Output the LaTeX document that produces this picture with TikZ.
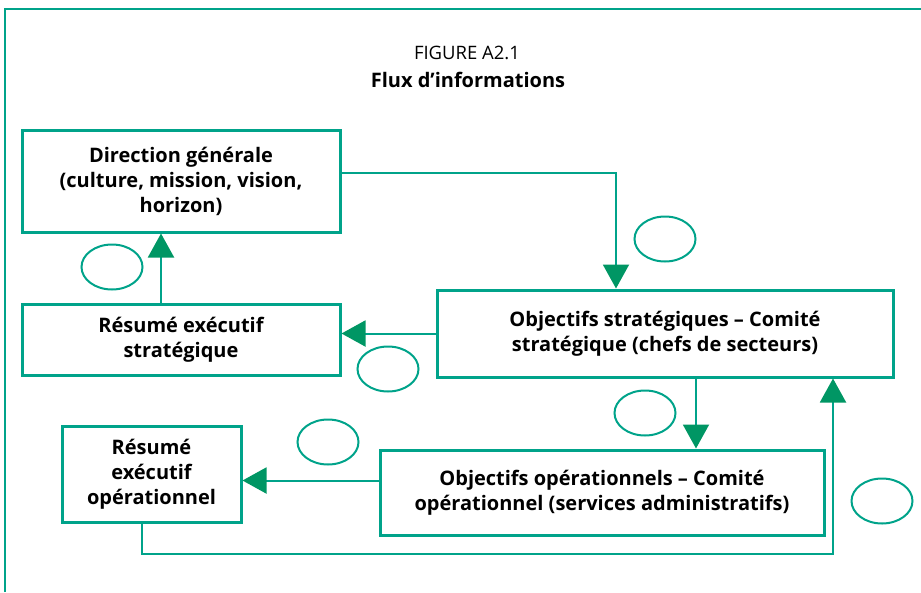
\documentclass[tikz,border=0pt]{standalone}
\usepackage{fontspec}
\setmainfont{Open Sans}
\usepackage{xcolor}
\definecolor{frameteal}{RGB}{0,163,138}
\definecolor{headgreen}{RGB}{0,150,100}
\usepackage{tikz}
\usetikzlibrary{shapes.geometric}
\usetikzlibrary{positioning}
\usetikzlibrary{arrows.meta}

\begin{document}
\begin{tikzpicture}[x=1pt,y=1pt,
  boxnode/.style={draw=frameteal,line width=3pt,align=center,inner sep=0pt,
    font=\bfseries\fontsize{20}{25}\selectfont},
  bubble/.style={draw=frameteal,line width=2pt,ellipse,minimum width=61pt,minimum height=45pt,inner sep=0pt},
  infolink/.style={draw=frameteal,line width=2pt,
    -{Triangle[length=24pt,width=26pt,color=headgreen]}}]
\useasboundingbox (0,0) rectangle (921,-592);
% frame
\draw[frameteal,line width=2pt] (5,-592) -- (5,-9) -- (921,-9);
% title
\node[anchor=base,font=\fontsize{18.5}{22}\selectfont] (figtitle) at (467,-59) {FIGURE A2.1};
\node[anchor=base,font=\bfseries\fontsize{20}{22}\selectfont] (figname) at (468,-87) {Flux d’informations};
% boxes
\node[boxnode,minimum width=318pt,minimum height=102pt] (direction) at (181,-181)
  {Direction générale\\(culture, mission, vision,\\horizon)};
\node[boxnode,minimum width=318pt,minimum height=71pt] (resumestrat) at (181,-339.5)
  {Résumé exécutif\\stratégique};
\node[boxnode,minimum width=456pt,minimum height=87pt] (objstrat) at (665,-333.5)
  {Objectifs stratégiques – Comité\\stratégique (chefs de secteurs)};
\node[boxnode,minimum width=444pt,minimum height=85pt] (objop) at (602,-492.5)
  {Objectifs opérationnels – Comité\\opérationnel (services administratifs)};
\node[boxnode,minimum width=179pt,minimum height=96pt] (resumeop) at (151.5,-474)
  {Résumé\\exécutif\\opérationnel};
% bubbles
\node[bubble] (b1) at (665,-239) {};
\node[bubble] (b2) at (388,-369) {};
\node[bubble] (b3) at (112,-267) {};
\node[bubble] (b4) at (645,-413) {};
\node[bubble] (b5) at (328,-442) {};
\node[bubble] (b6) at (882,-501) {};
% links
\draw[infolink] ([yshift=8pt]direction.east) -| ([xshift=-49pt]objstrat.north);
\draw[infolink] (objstrat.west) -- (objstrat.west -| resumestrat.east);
\draw[infolink] ([xshift=-20pt]resumestrat.north) -- ([xshift=-20pt]resumestrat.north |- direction.south);
\draw[infolink] ([xshift=31pt]objstrat.south) -- ([xshift=31pt]objstrat.south |- objop.north);
\draw[infolink] ([yshift=12pt]objop.west) -- ([yshift=12pt]objop.west -| resumeop.east);
\draw[infolink] ([xshift=-10pt]resumeop.south) -- ++(0,-30pt) -| ([xshift=168pt]objstrat.south);
\end{tikzpicture}
\end{document}
